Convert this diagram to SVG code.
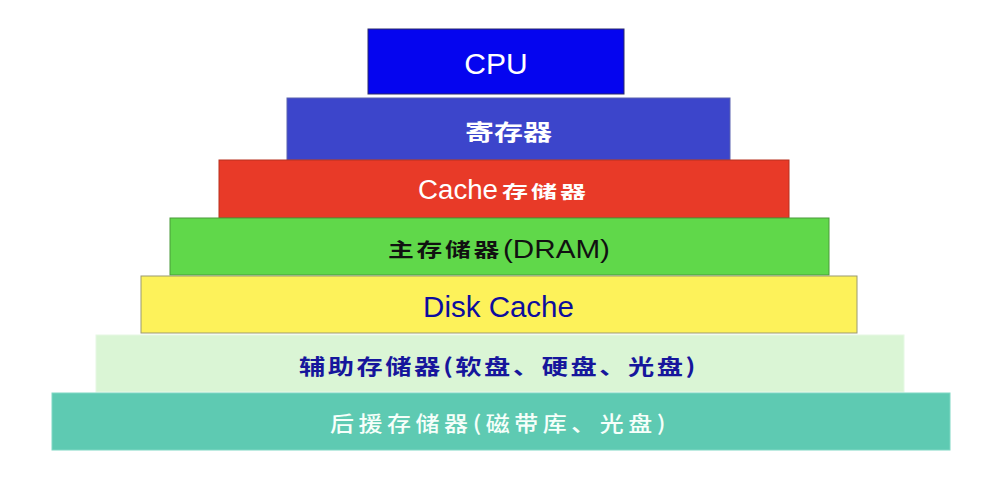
<svg xmlns="http://www.w3.org/2000/svg" width="1000" height="477" viewBox="0 0 1000 477">
<style>
.lat{font-family:"Liberation Sans",Arial,sans-serif}
.cjk{font-family:"Noto Sans CJK SC","Noto Sans",sans-serif}
.w{fill:#ffffff}
</style>
<rect width="1000" height="477" fill="#ffffff"/>
<g id="layer-cpu">
<rect x="368" y="29" width="256" height="65" fill="#0505ef" stroke="#2a2a6a" stroke-width="1"/>
<text class="lat w" x="496" y="74" font-size="30" text-anchor="middle">CPU</text>
</g>
<g id="layer-register">
<rect x="287" y="98" width="443" height="62" fill="#3c45cb" stroke="#5a62b0" stroke-width="1"/>
<text class="cjk w" x="465" y="140" font-size="22" font-weight="bold" textLength="87" lengthAdjust="spacingAndGlyphs">寄存器</text>
</g>
<g id="layer-cache">
<rect x="219" y="160" width="570" height="58" fill="#e83a28" stroke="#b8301f" stroke-width="1"/>
<text class="lat w" x="418" y="198.5" font-size="27" textLength="80" lengthAdjust="spacingAndGlyphs">Cache</text>
<text class="cjk w" x="502" y="197.5" font-size="17.5" font-weight="bold" letter-spacing="2" textLength="87" lengthAdjust="spacingAndGlyphs">存储器</text>
</g>
<g id="layer-dram">
<rect x="170" y="218" width="659" height="57" fill="#60d84a" stroke="#4a9a3a" stroke-width="1"/>
<text class="cjk" x="388" y="257" font-size="19" font-weight="bold" fill="#111111" letter-spacing="2" textLength="114" lengthAdjust="spacingAndGlyphs">主存储器</text>
<text class="lat" x="503" y="258" font-size="25.5" fill="#111111" textLength="107" lengthAdjust="spacingAndGlyphs">(DRAM)</text>
</g>
<g id="layer-diskcache">
<rect x="141" y="276" width="716" height="57" fill="#fdf25a" stroke="#9a9a70" stroke-width="1"/>
<text class="lat" x="498.5" y="317" font-size="29.5" fill="#0d0d9e" text-anchor="middle">Disk Cache</text>
</g>
<g id="layer-auxiliary">
<rect x="96" y="335" width="808" height="57" fill="#daf5d5" stroke="#e6f8e4" stroke-width="1"/>
<text class="cjk" x="299" y="374" font-size="21" font-weight="bold" fill="#16169c" letter-spacing="2" textLength="399" lengthAdjust="spacingAndGlyphs">辅助存储器(软盘、硬盘、光盘)</text>
</g>
<g id="layer-backup">
<rect x="52" y="393" width="898" height="57" fill="#5ecab2" stroke="#7fd8c4" stroke-width="1"/>
<text class="cjk" x="330" y="431" font-size="21" font-weight="500" fill="#f6fffa" letter-spacing="4" textLength="340" lengthAdjust="spacingAndGlyphs">后援存储器(磁带库、光盘)</text>
</g>
<g id="connectors"></g>
</svg>
